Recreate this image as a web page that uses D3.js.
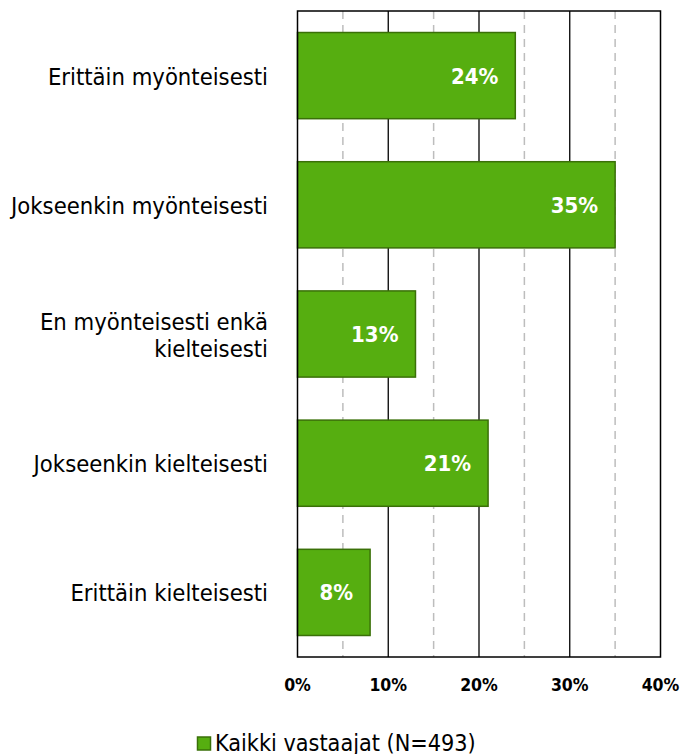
<!DOCTYPE html>
<html><head><meta charset="utf-8">
<script src="https://cdn.jsdelivr.net/npm/d3@7"></script>
<style>body{margin:0;background:#fff}svg{display:block}text{font-family:"DejaVu Sans Condensed","DejaVu Sans",sans-serif;font-stretch:condensed}</style>
</head><body><svg id="c" width="682" height="754"></svg>
<script>
const categories = [["Erittäin myönteisesti"],["Jokseenkin myönteisesti"],["En myönteisesti enkä","kielteisesti"],["Jokseenkin kielteisesti"],["Erittäin kielteisesti"]];
const values = [24, 35, 13, 21, 8];
const majorTicks = [0, 10, 20, 30, 40];
const minorTicks = [5, 15, 25, 35];
const legendLabel = "Kaikki vastaajat (N=493)";

const svg = d3.select("#c");
const L = 297.5, R = 660.5, T = 11, B = 657;
const x = d3.scaleLinear().domain([0, 40]).range([L, R]);
const y = d3.scaleBand().domain(d3.range(values.length)).range([T, B]).paddingInner(0.333).paddingOuter(0.1665);

svg.selectAll(".minor").data(minorTicks).join("line")
  .attr("x1", d => x(d)).attr("x2", d => x(d)).attr("y1", T).attr("y2", B)
  .attr("stroke", "#bdbdbd").attr("stroke-width", 1.5).attr("stroke-dasharray", "8,6");
svg.selectAll(".major").data(majorTicks.slice(1, -1)).join("line")
  .attr("x1", d => x(d)).attr("x2", d => x(d)).attr("y1", T).attr("y2", B)
  .attr("stroke", "#000").attr("stroke-width", 1.3);
svg.selectAll(".bar").data(values).join("rect")
  .attr("x", x(0)).attr("y", (d, i) => y(i)).attr("width", d => x(d) - x(0)).attr("height", y.bandwidth())
  .attr("fill", "#56ae10").attr("stroke", "#3a7008").attr("stroke-width", 1.5);
svg.append("rect").attr("x", L).attr("y", T).attr("width", R - L).attr("height", B - T)
  .attr("fill", "none").attr("stroke", "#000").attr("stroke-width", 1.5);
svg.selectAll(".val").data(values).join("text")
  .attr("x", d => x(d) - 17).attr("y", (d, i) => y(i) + y.bandwidth() / 2).attr("dy", "0.36em")
  .attr("text-anchor", "end").attr("fill", "#fff").attr("font-weight", "bold").attr("font-size", 22)
  .text(d => d + "%");
categories.forEach((lines, i) => {
  const cy = y(i) + y.bandwidth() / 2;
  const t = svg.append("text").attr("text-anchor", "end").attr("font-size", 23.6).attr("fill", "#000");
  lines.forEach((ln, j) => {
    t.append("tspan").attr("x", 268).attr("y", cy + (j - (lines.length - 1) / 2) * 27 + 9).text(ln);
  });
});
svg.selectAll(".tick").data(majorTicks).join("text")
  .attr("x", d => x(d)).attr("y", 691).attr("text-anchor", "middle")
  .attr("font-weight", "bold").attr("font-size", 17.5).text(d => d + "%");
svg.append("rect").attr("x", 197.5).attr("y", 737).attr("width", 13).attr("height", 13)
  .attr("fill", "#56ae10").attr("stroke", "#3a7008").attr("stroke-width", 1.5);
svg.append("text").attr("x", 215).attr("y", 750.5).attr("font-size", 23.2).text(legendLabel);
</script></body></html>
